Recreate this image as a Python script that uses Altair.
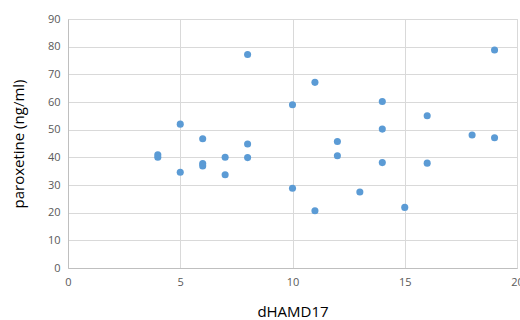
import altair as alt
import pandas as pd

dhamd17 = [4, 4, 5, 5, 6, 6, 6, 7, 7, 8, 8, 8, 10, 10, 11, 11, 12, 12, 13, 14, 14, 14, 15, 16, 16, 18, 19, 19]
paroxetine = [40.9, 40.0, 52.0, 34.6, 46.7, 37.8, 36.9, 40.0, 33.7, 77.2, 44.8, 39.9,
              59.0, 28.8, 67.1, 20.7, 45.7, 40.6, 27.5, 60.2, 50.2, 38.1, 21.9, 55.0, 37.9, 48.1, 78.8, 47.1]

df = pd.DataFrame({"dHAMD17": dhamd17, "paroxetine": paroxetine})

chart = alt.Chart(df).mark_circle(size=50, opacity=1, color="#5B9BD5").encode(
    x=alt.X("dHAMD17:Q", title="dHAMD17",
            scale=alt.Scale(domain=[0, 20], nice=False),
            axis=alt.Axis(values=[0, 5, 10, 15, 20], titlePadding=17, labelPadding=8,
                          labelFlush=False)),
    y=alt.Y("paroxetine:Q", title="paroxetine (ng/ml)",
            scale=alt.Scale(domain=[0, 90], nice=False),
            axis=alt.Axis(values=list(range(0, 91, 10)), titlePadding=21, labelPadding=8)),
).properties(
    width=449, height=249,
    autosize=alt.AutoSizeParams(type="none"),
    padding={"left": 68, "top": 19, "right": 3, "bottom": 52},
).configure_view(
    stroke="#D9D9D9"
).configure_axis(
    grid=True, gridColor="#D9D9D9", gridWidth=1,
    domainColor="#BFBFBF", ticks=False,
    labelColor="#595959", labelFont="Open Sans", labelFontSize=11,
    titleColor="#000000", titleFont="Open Sans", titleFontSize=15, titleFontWeight="normal",
)

chart.save("out.html", embed_options={"renderer": "svg", "actions": False})
